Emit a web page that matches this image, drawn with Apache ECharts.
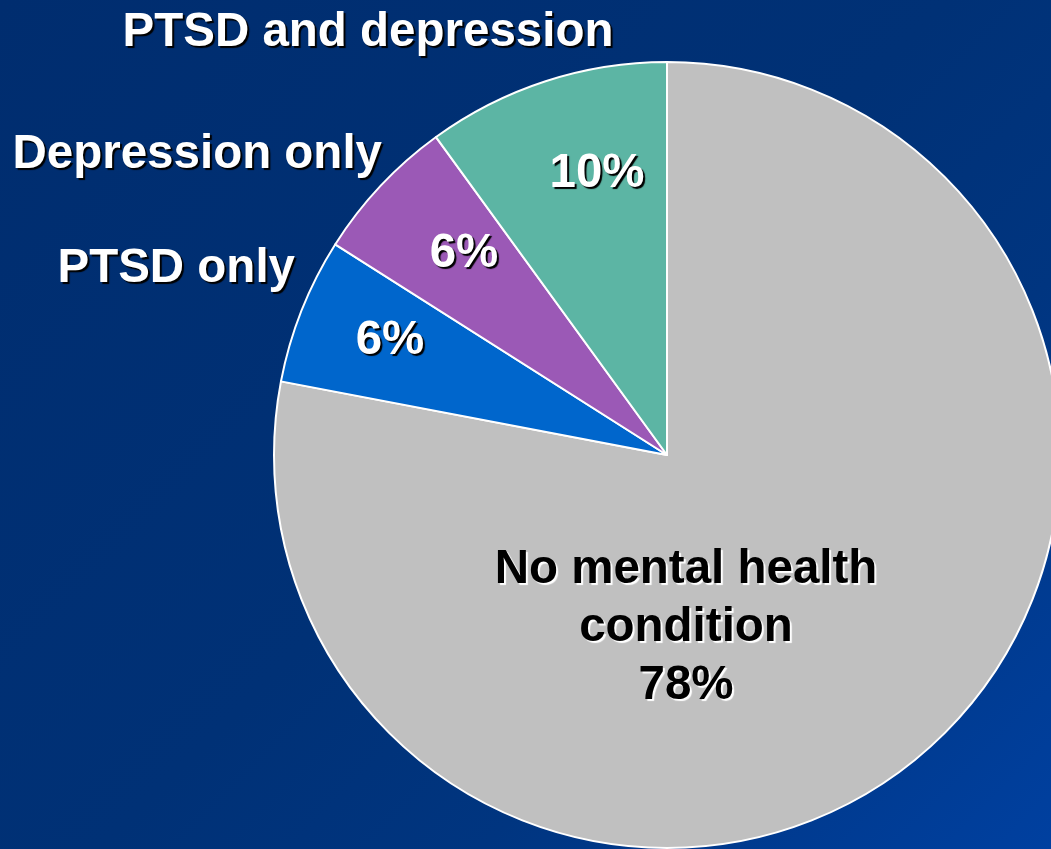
<!DOCTYPE html>
<html>
<head>
<meta charset="utf-8">
<script src="https://cdn.jsdelivr.net/npm/echarts@6/dist/echarts.min.js"></script>
<style>
html,body{margin:0;padding:0;width:1051px;height:849px;overflow:hidden;}
#chart{width:1051px;height:849px;background:linear-gradient(135deg,#002d6f 0%,#003176 50%,#003580 70%,#0040a0 100%);}
</style>
</head>
<body>
<div id="chart"></div>
<script>
// Data
const categories = ['No mental health\ncondition', 'PTSD only', 'Depression only', 'PTSD and depression'];
const values = [78, 6, 6, 10];
const colors = ['#c0c0c0', '#0066cc', '#9b59b6', '#5cb5a4'];

// Label positions (style only)
const innerPos = [[686, 628], [390, 341], [464, 254], [597, 174]];
const outerPos = [null, [295, 269, 'right'], [382, 155, 'right'], [368, 33, 'center']];

const font = {fontFamily: 'Liberation Sans, Arial, sans-serif', fontWeight: 'bold', fontSize: 47.5};

const chart = echarts.init(document.getElementById('chart'), null, {renderer: 'canvas'});

const mainData = values.map((v, i) => ({
  name: categories[i],
  value: v,
  itemStyle: {color: colors[i]},
  label: i === 0 ? {
    color: '#000', textShadowColor: '#ffffff', lineHeight: 58
  } : {}
}));

const nameData = values.map((v, i) => ({
  name: categories[i],
  value: v,
  label: {show: i !== 0}
}));

const shadow = {
  textShadowColor: '#000000',
  textShadowOffsetX: 2,
  textShadowOffsetY: 2,
  textShadowBlur: 1
};

chart.setOption({
  backgroundColor: 'transparent',
  animation: false,
  series: [
    {
      type: 'pie',
      center: [667, 455],
      radius: 393,
      startAngle: 90,
      clockwise: true,
      silent: true,
      itemStyle: {borderColor: '#ffffff', borderWidth: 2},
      label: Object.assign({
        show: true,
        position: 'inside',
        color: '#ffffff',
        align: 'center',
        overflow: 'none',
        formatter: p => p.dataIndex === 0 ? p.name + '\n' + p.value + '%' : p.value + '%'
      }, shadow, font),
      labelLine: {show: false},
      labelLayout: p => ({x: innerPos[p.dataIndex][0], y: innerPos[p.dataIndex][1], align: 'center', verticalAlign: 'middle'}),
      data: mainData
    },
    {
      type: 'pie',
      center: [667, 455],
      radius: 393,
      startAngle: 90,
      clockwise: true,
      silent: true,
      itemStyle: {color: 'rgba(0,0,0,0)', borderWidth: 0},
      label: Object.assign({
        show: true,
        position: 'outside',
        color: '#ffffff',
        overflow: 'none',
        formatter: p => p.name
      }, shadow, font),
      labelLine: {show: false},
      labelLayout: p => {
        const o = outerPos[p.dataIndex];
        if (!o) return {};
        return {x: o[0], y: o[1], align: o[2], verticalAlign: 'middle'};
      },
      data: nameData
    }
  ]
});
</script>
</body>
</html>
